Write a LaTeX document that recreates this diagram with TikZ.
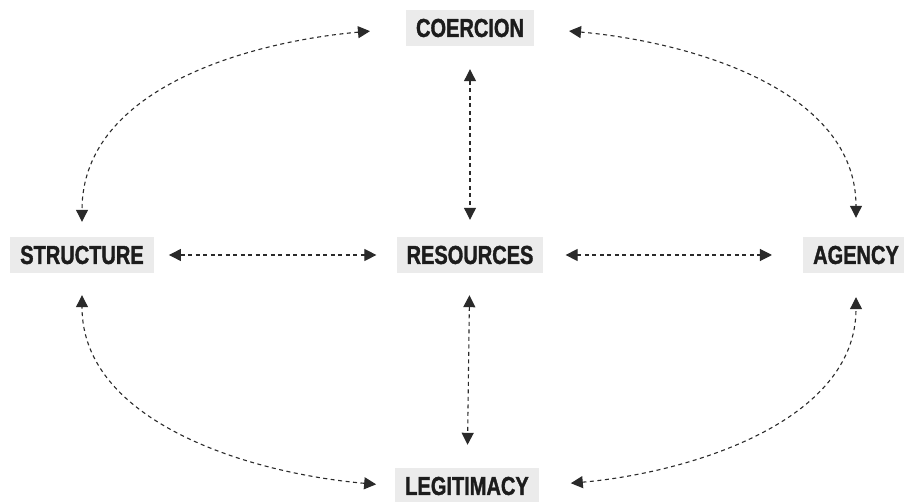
\documentclass[tikz,border=0pt]{standalone}
\usepackage{fontspec}
\usepackage{tikz}
\usetikzlibrary{arrows.meta}
\newfontfamily\boxfont{Liberation Sans Bold}[FakeStretch=0.77, FakeBold=1.3]
\definecolor{boxgray}{HTML}{EBEBEB}
\definecolor{inkgray}{HTML}{1C1C1C}
\definecolor{dashgray}{HTML}{2A2A2A}
\tikzstyle{conceptbox} = [fill=boxgray, rectangle, inner xsep=10pt, minimum height=36pt, text=inkgray, font=\boxfont\fontsize{26}{26}\selectfont]
\tikzstyle{twoway} = [draw=dashgray, line width=1.1pt, dash pattern=on 4pt off 3.5pt, {Triangle[length=12pt,width=12pt]}-{Triangle[length=12pt,width=12pt]}]

\begin{document}
\begin{tikzpicture}[x=1pt,y=1pt]
\useasboundingbox (0,0) rectangle (904,501);
\node [conceptbox] (coercion) at (470,473) {COERCION};
\node [conceptbox] (structure) at (82,246) {STRUCTURE};
\node [conceptbox] (resources) at (470,246) {RESOURCES};
\node [conceptbox] (agency) at (856,246) {AGENCY};
\node [conceptbox] (legitimacy) at (467,15) {LEGITIMACY};
% straight links
\draw [twoway, shorten <=15pt, shorten >=20pt] (structure) -- (resources);
\draw [twoway, shorten <=22pt, shorten >=31pt] (resources) -- (agency);
\draw [twoway, shorten <=23pt, shorten >=17pt] (coercion) -- (resources);
\draw [twoway, shorten <=22pt, shorten >=23pt] (resources) -- (legitimacy);
% curved links
\draw [twoway, shorten <=36pt, shorten >=15pt] (coercion.west) to[out=185,in=90] (structure.north);
\draw [twoway, shorten <=35pt, shorten >=19pt] (coercion.east) to[out=-5,in=90] (agency.north);
\draw [twoway, shorten <=19pt, shorten >=22pt] (legitimacy.west) to[out=175,in=-90] (structure.south);
\draw [twoway, shorten <=32pt, shorten >=24pt] (legitimacy.east) to[out=5,in=-90] (agency.south);
\end{tikzpicture}
\end{document}
